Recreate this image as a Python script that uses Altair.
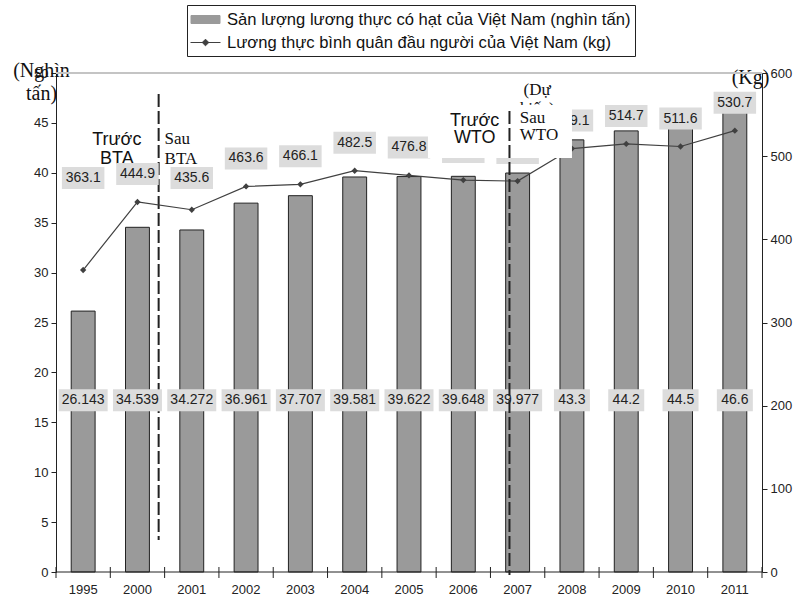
import altair as alt
import pandas as pd

SANS = "Liberation Sans"
SERIF = "Liberation Serif"

years = ["1995", "2000", "2001", "2002", "2003", "2004", "2005", "2006",
         "2007", "2008", "2009", "2010", "2011"]
production = [26.143, 34.539, 34.272, 36.961, 37.707, 39.581, 39.622,
              39.648, 39.977, 43.3, 44.2, 44.5, 46.6]
production_labels = ["26.143", "34.539", "34.272", "36.961", "37.707", "39.581",
                     "39.622", "39.648", "39.977", "43.3", "44.2", "44.5", "46.6"]
per_capita = [363.1, 444.9, 435.6, 463.6, 466.1, 482.5, 476.8, 471.2, 470.0,
              509.1, 514.7, 511.6, 530.7]
per_capita_labels = ["363.1", "444.9", "435.6", "463.6", "466.1", "482.5", "476.8",
                     "471.2", "470.0", "509.1", "514.7", "511.6", "530.7"]

S1 = "Sản lượng lương thực có hạt của Việt Nam (nghìn tấn)"
S2 = "Lương thực bình quân đầu người của Việt Nam (kg)"

# annotation texts: (text, year band, position in band, y in left units, font, size, align, line height)
notes_bta = [
    ("Trước\nBTA", "2000", 0.12, 42.8, SANS, 18, "center", 19),
    ("Sau\nBTA", "2001", 0.0, 42.9, SERIF, 17, "left", 20),
]
notes_forecast = [
    ("(Dự\nkiến)", "2007", 0.86, 47.8, SERIF, 17, "center", 19),
]
notes_wto = [
    ("Trước\nWTO", "2006", 0.71, 44.7, SANS, 18, "center", 17),
    ("Sau\nWTO", "2007", 0.54, 45.0, SERIF, 17, "left", 17),
]

df_bar = pd.DataFrame({"year": years, "prod": production,
                       "label": production_labels, "series": S1})
df_line = pd.DataFrame({"year": years, "kg": per_capita,
                        "label": per_capita_labels, "series": S2})
df_years = pd.DataFrame({"year": years})

xscale = alt.Scale(domain=years, paddingInner=0, paddingOuter=0)
X = alt.X("year:N", sort=years, scale=xscale, axis=None)
left_scale = alt.Scale(domain=[0, 50], nice=False, zero=True)
right_scale = alt.Scale(domain=[0, 600], nice=False, zero=True)

color_scale = alt.Scale(domain=[S1, S2], range=["#9a9a9a", "#404040"])
legend = alt.Legend(
    title=None, orient="none", legendX=131, legendY=-68, direction="vertical",
    labelFont=SANS, labelFontSize=16.6, labelColor="#111", labelLimit=600,
    strokeColor="#222", fillColor="white", padding=4, rowPadding=3,
    symbolSize=400, labelOffset=11, symbolOffset=4, symbolStrokeColor="#333333",
    symbolStrokeWidth=1, symbolOpacity=1,
    symbolType=alt.ExprRef(expr="datum.index === 0 ? 'M-1.45,-0.4L1.45,-0.4L1.45,0.4L-1.45,0.4Z' : 'M-1.5,0L1.5,0M0,-0.33L0.33,0L0,0.33L-0.33,0Z'"),
    symbolFillColor=alt.ExprRef(expr="datum.index === 0 ? '#9a9a9a' : '#404040'"),
)

BOX = "#dcdcdc"

def box_calc(chart):
    return chart.transform_calculate(
        w="6.5*length(datum.label)+10",
    ).transform_calculate(
        shp="'M-1,' + (-22/datum.w) + 'L1,' + (-22/datum.w) + 'L1,' + (22/datum.w) + 'L-1,' + (22/datum.w) + 'Z'",
        sz="datum.w*datum.w",
    )

def yl(field=None, datum=None, axis=None):
    if datum is not None:
        return alt.Y(datum=datum, type="quantitative", scale=left_scale, axis=axis)
    return alt.Y(field, scale=left_scale, axis=axis)

def yr(field, axis=None):
    return alt.Y(field, scale=right_scale, axis=axis)

def xb(bp):
    return alt.X("year:N", sort=years, scale=xscale, bandPosition=bp, axis=None)

# ---------- category axis (bottom) ----------
x_domain = alt.Chart(pd.DataFrame({"y": [0]})).mark_rule(
    color="#222", strokeWidth=1
).encode(y=yl("y:Q"))
x_ticks = alt.Chart(df_years).mark_rule(color="#222", strokeWidth=1).encode(
    x=xb(0), y=yl(datum=0.5), y2=alt.Y2(datum=-0.6)
)
x_ticks_end = alt.Chart(df_years.tail(1)).mark_rule(color="#222", strokeWidth=1).encode(
    x=xb(1), y=yl(datum=0.5), y2=alt.Y2(datum=-0.6)
)
x_labels = alt.Chart(df_years).mark_text(
    font=SANS, fontSize=13, color="#222", baseline="middle"
).encode(x=X, y=yl(datum=-1.8), text="year:N")

# ---------- bars ----------
bars = alt.Chart(df_bar).mark_bar(
    width=alt.RelativeBandSize(0.44), stroke="#222", strokeWidth=1, opacity=1
).encode(
    x=X,
    y=yl("prod:Q", axis=alt.Axis(
        orient="left", values=list(range(0, 51, 5)), grid=False, tickSize=5,
        labelFont=SANS, labelFontSize=13, labelColor="#222", labelPadding=3,
        domainColor="#222", tickColor="#222",
        title=["(Nghìn", "tấn)"], titleAngle=0, titleFont=SERIF, titleFontSize=20,
        titleFontWeight="normal", titleColor="#111", titleX=-15, titleY=3,
        titleAlign="center", titleBaseline="alphabetic", titleLineHeight=23)),
    color=alt.Color("series:N", scale=color_scale, legend=legend),
)

bar_boxes = box_calc(alt.Chart(df_bar)).mark_point(
    filled=True, color=BOX, opacity=1, strokeWidth=0
).encode(
    x=X, y=yl(datum=17.2),
    shape=alt.Shape("shp:N", scale=None), size=alt.Size("sz:Q", scale=None),
)
bar_text = alt.Chart(df_bar).mark_text(
    font=SANS, fontSize=14, color="#222", baseline="middle"
).encode(x=X, y=yl(datum=17.2), text="label:N")

# ---------- line ----------
line = alt.Chart(df_line).mark_line(strokeWidth=1.2).encode(
    x=X,
    y=yr("kg:Q", axis=alt.Axis(
        orient="right", values=list(range(0, 601, 100)), grid=False, tickSize=5,
        labelFont=SANS, labelFontSize=13, labelColor="#222", labelPadding=3,
        domainColor="#222", tickColor="#222",
        title="(Kg)", titleAngle=0, titleFont=SERIF, titleFontSize=20,
        titleFontWeight="normal", titleColor="#111", titleX=-12, titleY=10,
        titleAlign="center", titleBaseline="alphabetic")),
    color=alt.Color("series:N", scale=color_scale),
)
points = alt.Chart(df_line).mark_point(
    shape="diamond", filled=True, size=40, opacity=1, color="#404040"
).encode(x=X, y=yr("kg:Q"))

line_base = box_calc(alt.Chart(df_line)).transform_calculate(ly="max(datum.kg, 440)")
line_boxes = line_base.mark_point(
    filled=True, color=BOX, opacity=1, strokeWidth=0, yOffset=-28
).encode(
    x=X, y=yr("ly:Q"),
    shape=alt.Shape("shp:N", scale=None), size=alt.Size("sz:Q", scale=None),
)
line_text = line_base.mark_text(
    font=SANS, fontSize=14, color="#222", baseline="middle", yOffset=-28
).encode(x=X, y=yr("ly:Q"), text="label:N")

# ---------- annotations ----------
def note(spec):
    text, yr_, bp, yv, font, size, align, lh = spec
    d = pd.DataFrame({"year": [yr_], "y": [yv], "t": [text]})
    return alt.Chart(d).mark_text(
        font=font, fontSize=size, align=align, baseline="alphabetic",
        lineBreak="\n", lineHeight=lh, color="#111"
    ).encode(x=xb(bp), y=yl("y:Q"), text="t:N")

def dashed(yr_, bp, y1, y2):
    d = pd.DataFrame({"year": [yr_], "y": [y1], "y2": [y2]})
    return alt.Chart(d).mark_rule(
        strokeDash=[13, 4], strokeWidth=2, color="#222"
    ).encode(x=xb(bp), y=yl("y:Q"), y2="y2:Q")

top_line = alt.Chart(pd.DataFrame({"y": [50]})).mark_rule(
    color="#c4c4c4", strokeWidth=2
).encode(y=yl("y:Q"))

white_box = alt.Chart(pd.DataFrame({"year": ["2007"], "y": [44.15]})).mark_point(
    filled=True, color="white", opacity=1, strokeWidth=0,
    shape="M-1,-0.368L1,-0.368L1,0.368L-1,0.368Z", size=144 * 144,
).encode(x=xb(0.175), y=yl("y:Q"))

chart = alt.layer(
    bars, top_line, x_ticks, x_ticks_end, x_domain, x_labels,
    *[note(s) for s in notes_bta],
    dashed("2000", 0.89, 47.9, 3.2),
    bar_boxes, bar_text,
    line, points, line_boxes, line_text,
    *[note(s) for s in notes_forecast],
    white_box,
    *[note(s) for s in notes_wto],
    dashed("2007", 0.35, 46.2, -0.3),
).resolve_scale(y="independent").properties(
    width=706, height=499,
    autosize=alt.AutoSizeParams(type="none"),
    padding={"left": 56, "top": 73, "right": 35, "bottom": 25},
).configure_view(stroke=None)

chart.save("out.html", embed_options={"renderer": "svg", "actions": False})
